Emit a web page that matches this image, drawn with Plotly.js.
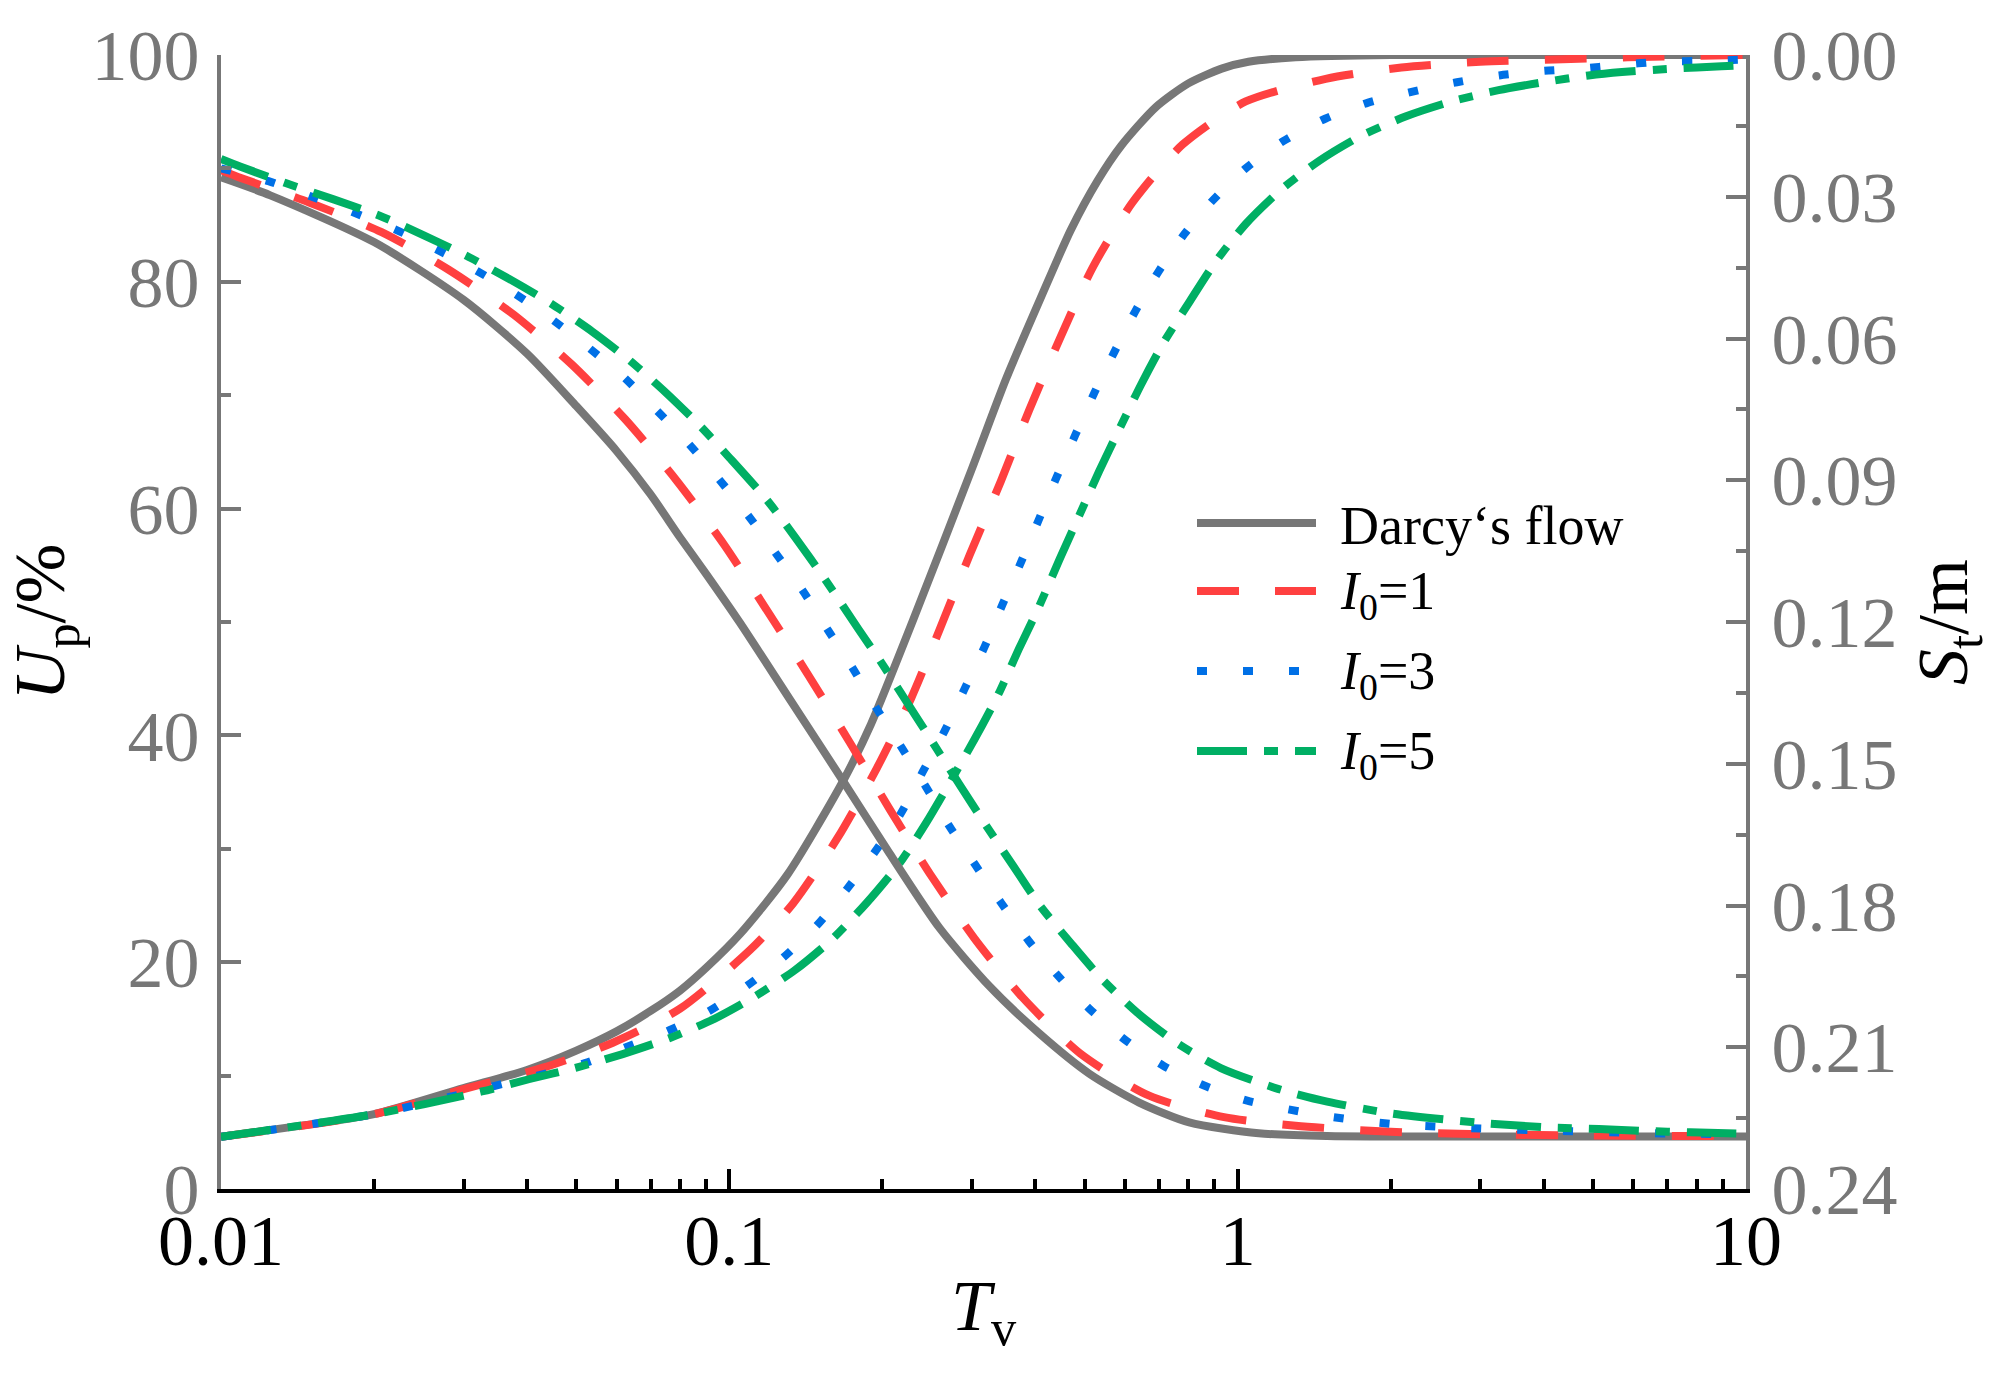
<!DOCTYPE html>
<html><head><meta charset="utf-8">
<script src="https://cdn.plot.ly/plotly-3.0.1.min.js"></script>
<style>
html,body{margin:0;padding:0;background:#fff;}
#chart{width:1995px;height:1376px;}
</style>
</head><body><div id="chart"></div>
<script>
// ---- data ----
// Degree of consolidation U_p (%) vs T_v (left axis)
const tUpDarcy = [0.01,0.015,0.02,0.03,0.04,0.05,0.06,0.07,0.08,0.09,0.105,0.13,0.1675,0.19,0.23,0.30,0.35,0.41,0.47,0.53,0.59,0.69,0.80,0.93,1.05,1.3,2,10];
const upDarcy  = [4.6,5.7,6.6,8.9,10.5,12.2,13.9,15.7,17.5,19.5,22.5,27.7,36.0,41.0,50.2,63.5,71.4,78.6,84.6,88.9,92.0,95.4,97.5,98.8,99.4,99.8,100,100];

const tUpI1 = [0.01,0.02,0.03,0.043,0.059,0.08,0.11,0.1336,0.1635,0.195,0.228,0.259,0.297,0.342,0.389,0.446,0.519,0.621,0.779,1.037,1.49,2.1,3.0,4.2,5.85,10];
const upI1  = [4.6,6.6,8.8,10.7,12.9,15.9,21.1,25.2,31.0,37.1,43.3,49.3,55.9,62.4,68.7,74.9,81.3,87.0,92.1,95.9,97.9,98.9,99.4,99.6,99.8,100];

const tUpI3 = [0.01,0.02,0.0346,0.052,0.0626,0.0762,0.0913,0.1082,0.1276,0.1484,0.170,0.1932,0.218,0.2402,0.2652,0.2902,0.3177,0.345,0.375,0.406,0.4406,0.4793,0.5224,0.5718,0.6288,0.6987,0.785,0.8856,1.037,1.229,1.49,1.806,2.22,2.70,3.27,4.0,4.72,5.58,6.72,8.53,10];
const upI3  = [4.6,6.6,9.1,11.1,12.5,14.0,15.7,17.9,20.4,23.2,26.4,29.7,33.2,36.8,40.4,44.1,47.8,51.6,55.3,59.0,62.8,66.5,70.2,73.8,77.4,80.9,84.2,87.0,90.0,92.4,94.4,95.8,96.8,97.6,98.2,98.6,98.8,99.1,99.4,99.5,99.6];

const tUpI5 = [0.01,0.02,0.0326,0.0405,0.05,0.0617,0.0762,0.0934,0.1115,0.1346,0.159,0.186,0.216,0.244,0.304,0.338,0.371,0.407,0.446,0.488,0.534,0.585,0.645,0.714,0.803,0.906,1.037,1.215,1.45,1.737,2.145,2.633,3.26,4.0,4.9,5.7,7.22,8.95,10];
const upI5  = [4.6,6.6,8.6,9.7,10.7,11.9,13.3,15.0,16.9,19.3,22.0,25.2,28.7,32.3,39.7,43.6,47.6,51.4,55.5,59.4,63.3,67.0,70.9,74.6,78.2,81.8,85.1,88.1,90.7,92.8,94.6,95.9,96.9,97.6,98.2,98.5,98.8,99.0,99.1];

// Settlement S_t (m) vs T_v (right axis, reversed)
const tSDarcy = [0.01,0.0125,0.02,0.03,0.04,0.05,0.06,0.07,0.08,0.09,0.1047,0.1316,0.1675,0.2067,0.2593,0.325,0.4074,0.5107,0.640,0.803,1.10,1.5,2,10];
const sDarcy  = [0.0259,0.0297,0.0396,0.0518,0.0632,0.0743,0.0838,0.0930,0.1021,0.1098,0.1200,0.1364,0.1537,0.1690,0.1848,0.1971,0.2071,0.2156,0.2217,0.2259,0.2282,0.2288,0.2289,0.2289];

const tSI1 = [0.01,0.0108,0.0149,0.0207,0.0281,0.0376,0.049,0.0624,0.0788,0.0976,0.123,0.1429,0.1726,0.2067,0.2485,0.3037,0.3769,0.4898,0.668,0.940,1.3,2,3,5,10];
const sI1  = [0.0244,0.0258,0.0312,0.0375,0.0455,0.0549,0.0655,0.0771,0.0901,0.1036,0.1202,0.1312,0.1455,0.1596,0.1734,0.1870,0.1994,0.2113,0.2202,0.2248,0.2266,0.2279,0.2284,0.2287,0.2288];

const tSI3 = [0.01,0.0124,0.015,0.0183,0.0221,0.0266,0.0319,0.0381,0.0451,0.0531,0.0619,0.0718,0.0831,0.0956,0.109,0.1235,0.1397,0.1565,0.1752,0.1948,0.218,0.244,0.2713,0.3051,0.3424,0.3882,0.4426,0.5092,0.5983,0.714,0.859,1.044,1.5,2,3,4.31,6.5,10];
const sI3  = [0.0240,0.0267,0.0299,0.0334,0.0370,0.0412,0.0457,0.0507,0.0562,0.0621,0.0681,0.0751,0.0822,0.0899,0.0975,0.1055,0.1135,0.1218,0.1299,0.1383,0.1465,0.1550,0.1633,0.1715,0.1794,0.1875,0.1948,0.2017,0.2083,0.2139,0.2181,0.2213,0.2246,0.2262,0.2272,0.2277,0.2282,0.2284];

const tSI5 = [0.01,0.0109,0.0134,0.0166,0.0204,0.025,0.0304,0.0369,0.0446,0.0537,0.0636,0.0751,0.0876,0.1,0.1184,0.1352,0.1541,0.1792,0.1977,0.2236,0.2516,0.2829,0.3192,0.3622,0.409,0.47,0.541,0.635,0.7614,0.9264,1.2,1.5,2,3,4.13,5.14,6.3,7.77,10];
const sI5  = [0.0220,0.0236,0.0271,0.0305,0.0339,0.0381,0.0425,0.0474,0.0526,0.0585,0.0646,0.0715,0.0785,0.0852,0.0941,0.1023,0.1109,0.1214,0.1281,0.1370,0.1456,0.1542,0.1629,0.1717,0.1801,0.1880,0.1956,0.2027,0.2092,0.2144,0.2188,0.2215,0.2240,0.2260,0.2270,0.2273,0.2277,0.2280,0.2283];

const seriesNames = ["Darcy\u2018s flow", "<i>I</i><sub>0</sub>=1", "<i>I</i><sub>0</sub>=3", "<i>I</i><sub>0</sub>=5"];
const xTickVals = [0.01, 0.1, 1, 10];
const xTickText = ["0.01", "0.1", "1", "10"];

// ---- styles ----
const FONT = "Liberation Serif, Times New Roman, serif";
const GREY = "#777777";
const colors = [GREY, "#FF4040", "#0070E6", "#00AF64"];
const dashes = ["solid", "42px,36px", "10px,36px", "50px,17px,14px,17px"];
const LW = 8;

const upX = [tUpDarcy, tUpI1, tUpI3, tUpI5];
const upY = [upDarcy, upI1, upI3, upI5];
const sX = [tSDarcy, tSI1, tSI3, tSI5];
const sY = [sDarcy, sI1, sI3, sI5];

const traces = [];
for (let i = 0; i < 4; i++) {
  traces.push({x: upX[i], y: upY[i], xaxis: "x", yaxis: "y", mode: "lines", name: seriesNames[i],
    showlegend: false, line: {color: colors[i], width: LW, dash: dashes[i], shape: "spline", smoothing: 0.7}});
  traces.push({x: sX[i], y: sY[i], xaxis: "x", yaxis: "y2", mode: "lines", name: seriesNames[i],
    showlegend: false, line: {color: colors[i], width: LW, dash: dashes[i], shape: "spline", smoothing: 0.7}});
}

const minorLog = [];
[0.01, 0.1, 1].forEach(d => { for (let k = 2; k <= 9; k++) minorLog.push(+(k * d).toPrecision(3)); });

// plot area (px)
const PL = 221, PR = 1746, PT = 55, PB = 1189;
const W = 1995, H = 1376;
const fx = p => (p - PL) / (PR - PL);
const fy = p => (PB - p) / (PB - PT);

// manual legend
const legRowsY = [523, 591, 671, 751];
const legTextY = [526, 594, 674, 754];
const shapes = [], annotations = [];
for (let i = 0; i < 4; i++) {
  shapes.push({type: "line", xref: "paper", yref: "paper", x0: fx(1197), x1: fx(1316), y0: fy(legRowsY[i]), y1: fy(legRowsY[i]),
    line: {color: colors[i], width: LW, dash: dashes[i]}});
  annotations.push({xref: "paper", yref: "paper", x: fx(1338), y: fy(legTextY[i]), xanchor: "left", yanchor: "middle",
    text: seriesNames[i], showarrow: false, font: {family: FONT, size: 54, color: "#000"}});
}

const tickCommon = {ticks: "inside", ticklen: 20, tickwidth: 4, showline: true, linewidth: 4, showgrid: false, zeroline: false};

const layout = {
  width: W, height: H,
  margin: {l: PL, r: W - PR, t: PT, b: H - PB, pad: 0},
  paper_bgcolor: "#fff", plot_bgcolor: "#fff",
  font: {family: FONT, color: "#000"},
  showlegend: false,
  xaxis: Object.assign({}, tickCommon, {
    type: "log", range: [-2, 1], anchor: "y",
    linecolor: "#000", tickcolor: "#000",
    tickmode: "array", tickvals: xTickVals, ticktext: xTickText,
    minor: {tickmode: "array", tickvals: minorLog, ticks: "inside", ticklen: 10, tickwidth: 4, tickcolor: "#000"},
    tickfont: {family: FONT, size: 72, color: "#000"},
    ticklabelstandoff: -14,
    title: {text: "<i>T</i><sub>v</sub>", font: {family: FONT, size: 72, color: "#000"}, standoff: 0}
  }),
  xaxis2: Object.assign({}, tickCommon, {
    type: "log", range: [-2, 1], overlaying: "x", side: "top", anchor: "y",
    linecolor: GREY, tickcolor: GREY, showticklabels: false,
    tickmode: "array", tickvals: xTickVals,
    minor: {tickmode: "array", tickvals: minorLog, ticks: "inside", ticklen: 10, tickwidth: 4, tickcolor: GREY}
  }),
  yaxis: Object.assign({}, tickCommon, {
    range: [0, 100], anchor: "x",
    linecolor: GREY, tickcolor: GREY, dtick: 20, tick0: 0,
    minor: {dtick: 10, tick0: 0, ticks: "inside", ticklen: 10, tickwidth: 4, tickcolor: GREY},
    tickfont: {family: FONT, size: 72, color: GREY},
    ticklabelstandoff: 3,
    title: {text: "<i>U</i><sub>p</sub>/%", font: {family: FONT, size: 72, color: "#000"}, standoff: 31}
  }),
  yaxis2: Object.assign({}, tickCommon, {
    range: [0.24, 0], overlaying: "y", side: "right", anchor: "x",
    linecolor: GREY, tickcolor: GREY, dtick: 0.03, tick0: 0, tickformat: ".2f",
    minor: {dtick: 0.015, tick0: 0, ticks: "inside", ticklen: 10, tickwidth: 4, tickcolor: GREY},
    tickfont: {family: FONT, size: 72, color: GREY},
    ticklabelstandoff: 7,
    title: {text: "<i>S</i><sub>t</sub>/m", font: {family: FONT, size: 72, color: "#000"}, standoff: 21}
  }),
  shapes: shapes,
  annotations: annotations
};

Plotly.newPlot("chart", traces, layout, {displayModeBar: false, responsive: false});
</script>
</body></html>
